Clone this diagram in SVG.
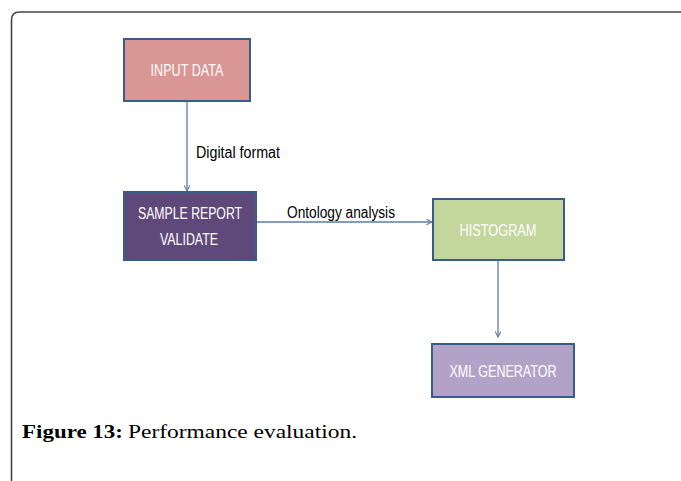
<svg xmlns="http://www.w3.org/2000/svg" width="681" height="481" viewBox="0 0 681 481">
<defs>
<style>
.box{stroke:#385d8a;stroke-width:2}
.lbl{font-family:"Liberation Sans Narrow","Liberation Sans",Arial,sans-serif;font-size:16px;fill:#ffffff;text-anchor:middle}
.edge{font-family:"Liberation Sans Narrow","Liberation Sans",Arial,sans-serif;font-size:16px;fill:#000000}
.conn{stroke:#5a7ca8;stroke-width:1.3;fill:none;marker-end:url(#arr)}
.cap{font-family:"Liberation Serif","Times New Roman",serif;font-size:19px;fill:#000}
</style>
<marker id="arr" viewBox="0 0 10 10" refX="9" refY="5" markerWidth="7" markerHeight="7" markerUnits="userSpaceOnUse" orient="auto">
<path d="M1,1 L9,5 L1,9" fill="none" stroke="#5a7ca8" stroke-width="1.5"/>
</marker>
</defs>
<rect width="681" height="481" fill="#ffffff"/>
<path d="M11.5,490 V20 Q11.5,12 19.5,12 H690" fill="none" stroke="#444444" stroke-width="1.6"/>
<g id="connectors">
<line class="conn" x1="187" y1="101" x2="187" y2="191"/>
<line class="conn" x1="256" y1="222" x2="432" y2="222"/>
<line class="conn" x1="498" y1="260" x2="498" y2="337"/>
<text class="edge" x="196" y="158" textLength="84" lengthAdjust="spacingAndGlyphs">Digital format</text>
<text class="edge" x="287" y="218" textLength="108" lengthAdjust="spacingAndGlyphs">Ontology analysis</text>
</g>
<g id="input-data">
<rect class="box" x="124" y="39" width="126" height="62" fill="#d99694"/>
<text class="lbl" x="187" y="76" textLength="73" lengthAdjust="spacingAndGlyphs">INPUT DATA</text>
</g>
<g id="sample-report">
<rect class="box" x="124" y="192" width="132" height="68" fill="#5f497a"/>
<text class="lbl" x="190" y="219" textLength="104" lengthAdjust="spacingAndGlyphs">SAMPLE REPORT</text>
<text class="lbl" x="189" y="245" textLength="58" lengthAdjust="spacingAndGlyphs">VALIDATE</text>
</g>
<g id="histogram">
<rect class="box" x="433" y="199" width="131" height="61" fill="#c3d69b"/>
<text class="lbl" x="498" y="236" textLength="77" lengthAdjust="spacingAndGlyphs">HISTOGRAM</text>
</g>
<g id="xml-generator">
<rect class="box" x="432" y="344" width="142" height="53" fill="#b3a2c7"/>
<text class="lbl" x="503" y="377" textLength="107" lengthAdjust="spacingAndGlyphs">XML GENERATOR</text>
</g>
<text class="cap" x="22" y="438" font-weight="bold" textLength="101" lengthAdjust="spacingAndGlyphs">Figure 13:</text>
<text class="cap" x="128" y="438" textLength="229" lengthAdjust="spacingAndGlyphs">Performance evaluation.</text>
</svg>
